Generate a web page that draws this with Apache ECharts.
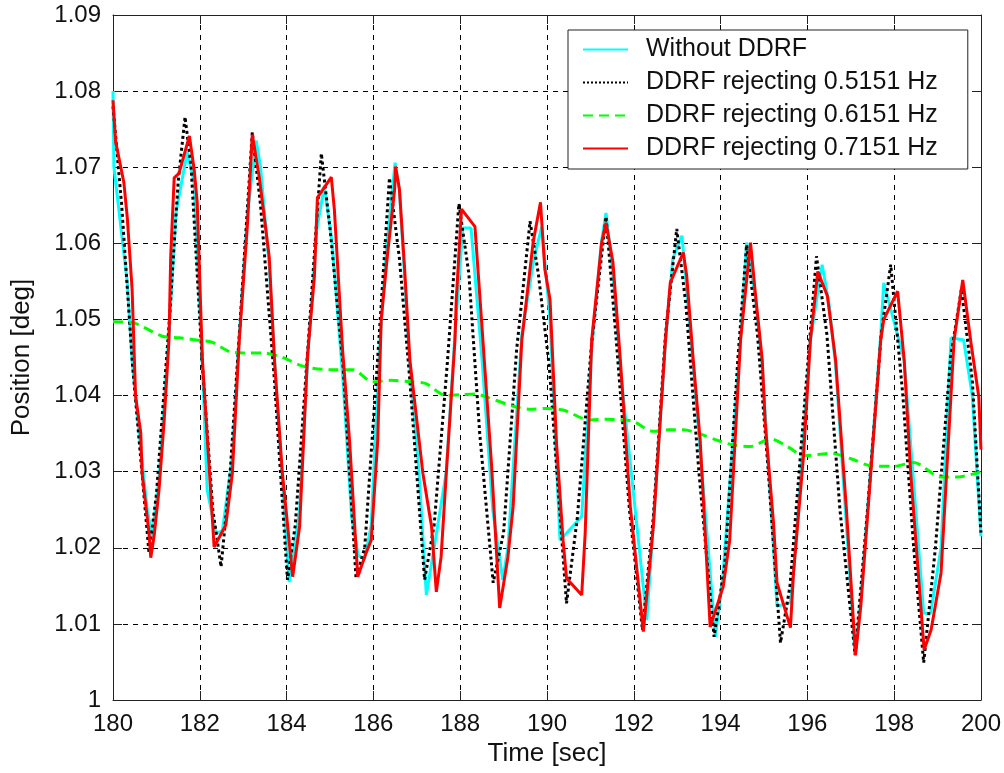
<!DOCTYPE html>
<html>
<head>
<meta charset="utf-8">
<script src="https://cdn.jsdelivr.net/npm/echarts@6/dist/echarts.min.js"></script>
<style>
html,body{margin:0;padding:0;background:#fff;}
#chart{width:1004px;height:773px;}
</style>
</head>
<body>
<div id="chart"></div>
<script>
// ---- data (time [sec], position [deg]) ----
const seriesNames = ['Without DDRF', 'DDRF rejecting 0.5151 Hz', 'DDRF rejecting 0.6151 Hz', 'DDRF rejecting 0.7151 Hz'];
const xTickLabels = ['180','182','184','186','188','190','192','194','196','198','200'];
const yTickLabels = ['1','1.01','1.02','1.03','1.04','1.05','1.06','1.07','1.08','1.09'];

const withoutDDRF = [
[180.00,1.0800],[180.02,1.0701],[180.18,1.0622],[180.33,1.0548],[180.44,1.0447],[180.64,1.0329],[180.79,1.0250],[180.90,1.0215],[181.06,1.0290],[181.29,1.0480],[181.45,1.0640],[181.71,1.0720],[181.87,1.0680],[182.06,1.0440],[182.17,1.0276],[182.37,1.0219],[182.52,1.0222],[182.75,1.0320],[182.91,1.0480],[183.10,1.0640],[183.30,1.0735],[183.40,1.0700],[183.60,1.0570],[183.75,1.0420],[184.06,1.0155],[184.30,1.0250],[184.50,1.0460],[184.70,1.0620],[184.87,1.0675],[185.05,1.0600],[185.30,1.0420],[185.50,1.0240],[185.65,1.0190],[185.80,1.0185],[185.95,1.0230],[186.14,1.0460],[186.30,1.0590],[186.50,1.0706],[186.60,1.0670],[186.84,1.0440],[187.05,1.0300],[187.22,1.0138],[187.40,1.0200],[187.68,1.0300],[187.88,1.0480],[188.06,1.0620],[188.25,1.0620],[188.50,1.0450],[188.75,1.0250],[188.98,1.0158],[189.10,1.0200],[189.42,1.0480],[189.70,1.0580],[189.88,1.0622],[190.07,1.0500],[190.30,1.0210],[190.80,1.0241],[191.03,1.0460],[191.25,1.0600],[191.36,1.0640],[191.52,1.0560],[191.70,1.0430],[192.30,1.0105],[192.45,1.0230],[192.73,1.0470],[192.90,1.0580],[193.11,1.0610],[193.37,1.0440],[193.88,1.0083],[194.05,1.0160],[194.46,1.0473],[194.60,1.0601],[194.80,1.0530],[194.96,1.0440],[195.30,1.0123],[195.61,1.0128],[195.70,1.0180],[196.07,1.0473],[196.34,1.0572],[196.50,1.0520],[196.65,1.0440],[197.10,1.0060],[197.23,1.0130],[197.69,1.0480],[197.76,1.0548],[198.23,1.0447],[198.68,1.0114],[198.84,1.0114],[199.08,1.0200],[199.31,1.0476],[199.60,1.0473],[199.80,1.0400],[200.00,1.0215]
];

const ddrf05151 = [
[180.00,1.0780],[180.20,1.0650],[180.45,1.0440],[180.83,1.0193],[181.00,1.0270],[181.30,1.0500],[181.50,1.0680],[181.66,1.0766],[181.80,1.0700],[182.06,1.0440],[182.30,1.0250],[182.49,1.0175],[182.70,1.0300],[182.91,1.0480],[183.21,1.0746],[183.40,1.0650],[183.72,1.0420],[184.02,1.0158],[184.20,1.0230],[184.50,1.0470],[184.80,1.0718],[185.00,1.0620],[185.30,1.0440],[185.60,1.0160],[185.80,1.0200],[186.10,1.0450],[186.37,1.0686],[186.60,1.0580],[186.84,1.0420],[187.18,1.0158],[187.40,1.0230],[187.70,1.0440],[187.97,1.0652],[188.20,1.0560],[188.45,1.0350],[188.76,1.0154],[189.00,1.0220],[189.30,1.0460],[189.61,1.0629],[189.80,1.0560],[190.05,1.0440],[190.45,1.0127],[190.70,1.0240],[191.03,1.0470],[191.36,1.0635],[191.60,1.0470],[191.90,1.0250],[192.20,1.0092],[192.45,1.0240],[192.73,1.0480],[192.99,1.0619],[193.20,1.0520],[193.50,1.0300],[193.85,1.0083],[194.10,1.0180],[194.40,1.0450],[194.60,1.0598],[194.85,1.0480],[195.10,1.0300],[195.38,1.0075],[195.60,1.0150],[195.95,1.0400],[196.21,1.0583],[196.45,1.0480],[196.75,1.0250],[197.10,1.0059],[197.40,1.0260],[197.70,1.0480],[197.92,1.0572],[198.20,1.0400],[198.45,1.0200],[198.68,1.0049],[198.95,1.0200],[199.30,1.0450],[199.55,1.0540],[199.80,1.0420],[200.00,1.0220]
];

const ddrf06151 = [
[180.00,1.0497],[180.44,1.0496],[180.70,1.0490],[181.13,1.0478],[181.52,1.0476],[182.06,1.0472],[182.29,1.0470],[182.68,1.0458],[183.00,1.0456],[183.45,1.0456],[183.80,1.0452],[184.00,1.0448],[184.30,1.0440],[184.60,1.0436],[184.99,1.0434],[185.52,1.0434],[185.99,1.0418],[186.40,1.0420],[186.84,1.0418],[187.20,1.0416],[187.68,1.0400],[188.00,1.0401],[188.37,1.0402],[188.56,1.0399],[189.22,1.0386],[189.61,1.0382],[189.99,1.0383],[190.37,1.0381],[190.99,1.0368],[191.35,1.0369],[191.69,1.0368],[191.99,1.0366],[192.45,1.0353],[192.80,1.0355],[193.14,1.0355],[193.45,1.0351],[193.99,1.0340],[194.30,1.0335],[194.69,1.0333],[195.15,1.0343],[195.54,1.0333],[195.92,1.0321],[196.54,1.0324],[197.00,1.0317],[197.53,1.0307],[197.99,1.0307],[198.45,1.0312],[199.08,1.0293],[199.46,1.0293],[200.00,1.0300]
];

const ddrf07151 = [
[180.00,1.0788],[180.06,1.0734],[180.25,1.0680],[180.33,1.0633],[180.44,1.0540],[180.52,1.0399],[180.64,1.0351],[180.67,1.0298],[180.83,1.0219],[180.87,1.0187],[180.95,1.0217],[181.06,1.0276],[181.18,1.0368],[181.29,1.0473],[181.33,1.0583],[181.41,1.0686],[181.52,1.0692],[181.76,1.0741],[181.87,1.0697],[181.94,1.0654],[182.06,1.0447],[182.20,1.0320],[182.33,1.0201],[182.60,1.0230],[182.75,1.0298],[182.91,1.0473],[183.10,1.0627],[183.21,1.0743],[183.37,1.0687],[183.60,1.0582],[183.72,1.0447],[183.90,1.0300],[184.14,1.0162],[184.30,1.0228],[184.48,1.0451],[184.64,1.0556],[184.71,1.0660],[185.03,1.0687],[185.10,1.0645],[185.29,1.0460],[185.45,1.0341],[185.64,1.0162],[185.83,1.0193],[185.95,1.0210],[186.10,1.0341],[186.18,1.0500],[186.33,1.0588],[186.49,1.0671],[186.51,1.0701],[186.60,1.0671],[186.72,1.0566],[186.84,1.0447],[187.14,1.0298],[187.34,1.0228],[187.45,1.0142],[187.56,1.0188],[187.68,1.0298],[187.88,1.0473],[187.91,1.0526],[188.03,1.0645],[188.34,1.0622],[188.49,1.0500],[188.72,1.0311],[188.91,1.0121],[189.10,1.0188],[189.22,1.0254],[189.42,1.0473],[189.68,1.0601],[189.85,1.0654],[189.95,1.0566],[190.07,1.0526],[190.22,1.0337],[190.37,1.0210],[190.45,1.0160],[190.80,1.0138],[190.88,1.0219],[191.03,1.0473],[191.26,1.0601],[191.36,1.0627],[191.52,1.0575],[191.69,1.0447],[191.92,1.0254],[192.22,1.0090],[192.45,1.0228],[192.73,1.0473],[192.84,1.0548],[193.14,1.0588],[193.22,1.0557],[193.37,1.0447],[193.53,1.0341],[193.76,1.0096],[194.06,1.0149],[194.21,1.0210],[194.46,1.0473],[194.57,1.0535],[194.69,1.0601],[194.80,1.0535],[194.96,1.0447],[195.03,1.0362],[195.22,1.0232],[195.30,1.0154],[195.61,1.0095],[195.68,1.0167],[195.91,1.0320],[196.07,1.0473],[196.24,1.0563],[196.46,1.0531],[196.65,1.0447],[196.90,1.0250],[197.11,1.0059],[197.23,1.0123],[197.46,1.0298],[197.69,1.0473],[197.76,1.0500],[198.08,1.0537],[198.23,1.0447],[198.38,1.0298],[198.69,1.0066],[198.85,1.0092],[199.08,1.0167],[199.38,1.0473],[199.58,1.0552],[199.77,1.0469],[199.95,1.0398],[200.00,1.0329]
];

const seriesData = [withoutDDRF, ddrf05151, ddrf06151, ddrf07151];
const seriesColors = ['#00FFFF', '#000000', '#00FF00', '#FF0000'];
const seriesLineTypes = ['solid', 'dotted', [10, 6], 'solid'];

const axisFont = "'Liberation Sans', Arial, sans-serif";
const legendFont = "'Liberation Sans', Arial, sans-serif";

const chart = echarts.init(document.getElementById('chart'), null, {renderer: 'canvas'});

const gridLine = {show: true, lineStyle: {color: '#000', type: [5, 5], width: 1}};
const frameLine = {show: true, lineStyle: {color: '#222', width: 1}};

const option = {
  animation: false,
  backgroundColor: '#fff',
  grid: {left: 113, right: 23, top: 15, bottom: 73, show: false},
  legend: {
    orient: 'vertical',
    left: 568, top: 30,
    padding: [3, 30, 4, 14],
    itemGap: 0,
    itemWidth: 45, itemHeight: 14,
    borderColor: '#222', borderWidth: 1,
    backgroundColor: '#fff',
    itemStyle: {opacity: 0},
    textStyle: {fontFamily: legendFont, fontSize: 25, color: '#111', lineHeight: 33, padding: [0, 0, 0, 13]},
    data: seriesNames
  },
  xAxis: [{
    type: 'value', min: 180, max: 200, interval: 2,
    position: 'bottom',
    name: 'Time [sec]', nameLocation: 'middle', nameGap: 36,
    nameTextStyle: {fontFamily: axisFont, fontSize: 26, color: '#111'},
    axisLine: frameLine,
    axisTick: {show: true, inside: true, length: 9, lineStyle: {color: '#222'}},
    axisLabel: {fontFamily: axisFont, fontSize: 24, color: '#111', margin: 12,
      formatter: v => xTickLabels[Math.round((v - 180) / 2)]},
    splitLine: gridLine
  }, {
    type: 'value', min: 180, max: 200, interval: 2,
    position: 'top',
    axisLine: frameLine,
    axisTick: {show: true, inside: true, length: 9, lineStyle: {color: '#222'}},
    axisLabel: {show: false},
    splitLine: {show: false}
  }],
  yAxis: [{
    type: 'value', min: 1, max: 1.09, interval: 0.01,
    position: 'left',
    name: 'Position [deg]', nameLocation: 'middle', nameGap: 78,
    nameTextStyle: {fontFamily: axisFont, fontSize: 26, color: '#111'},
    axisLine: frameLine,
    axisTick: {show: true, inside: true, length: 9, lineStyle: {color: '#222'}},
    axisLabel: {fontFamily: axisFont, fontSize: 24, color: '#111', margin: 12,
      formatter: v => yTickLabels[Math.round((v - 1) / 0.01)]},
    splitLine: gridLine
  }, {
    type: 'value', min: 1, max: 1.09, interval: 0.01,
    position: 'right',
    axisLine: frameLine,
    axisTick: {show: true, inside: true, length: 9, lineStyle: {color: '#222'}},
    axisLabel: {show: false},
    splitLine: {show: false}
  }],
  series: seriesNames.map((name, i) => ({
    name: name,
    type: 'line',
    xAxisIndex: 0, yAxisIndex: 0,
    data: seriesData[i],
    showSymbol: false,
    symbol: 'none',
    smooth: i === 2 ? 0.3 : false,
    z: 2 + i,
    color: seriesColors[i],
    lineStyle: {color: seriesColors[i], width: 3, type: seriesLineTypes[i], cap: 'butt'},
    emphasis: {disabled: true}
  }))
};

chart.setOption(option);
</script>
</body>
</html>
